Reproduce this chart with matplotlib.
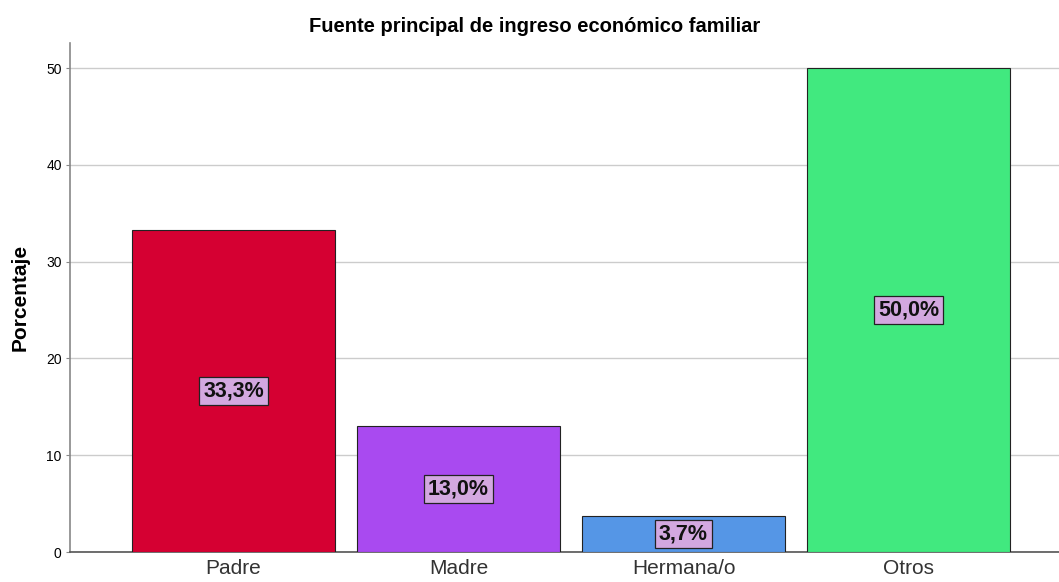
import matplotlib
matplotlib.use("Agg")
import matplotlib.pyplot as plt

categories = ["Padre", "Madre", "Hermana/o", "Otros"]
values = [33.3, 13.0, 3.7, 50.0]
labels = ["33,3%", "13,0%", "3,7%", "50,0%"]
colors = ["#D50032", "#A94AF0", "#5596E6", "#41E97F"]
yticks = [0, 10, 20, 30, 40, 50]

plt.rcParams['font.family'] = ['Liberation Sans', 'DejaVu Sans']

W, H = 1059, 582
fig = plt.figure(figsize=(W/100, H/100), dpi=100)
ax = fig.add_axes([70/W, 1-552/H, (1059-70)/W, (552-43)/H])

x = list(range(len(categories)))
ax.bar(x, values, width=0.902, color=colors, edgecolor="#222222", linewidth=0.8, zorder=3)
for xi, v, lab in zip(x, values, labels):
    ax.text(xi, v/2, lab, ha="center", va="center", fontsize=15.5, fontweight="bold",
            color="#111111", zorder=5,
            bbox=dict(boxstyle="square,pad=0.18", facecolor="#D3A8E0", edgecolor="#222222", linewidth=0.9))

ax.set_xlim(-0.727, 3.669)
ax.set_ylim(0, 52.6)
ax.set_yticks(yticks)
ax.set_yticklabels([str(t) for t in yticks], fontsize=10)
ax.set_xticks(x)
ax.set_xticklabels(categories, fontsize=15, color="#333333")
ax.tick_params(axis="x", length=0, pad=5)
ax.tick_params(axis="y", length=3, color="#888888", pad=3)
ax.yaxis.grid(True, color="#CCCCCC", linewidth=1.0, zorder=0)
ax.set_axisbelow(True)
for s in ["top", "right"]:
    ax.spines[s].set_visible(False)
ax.spines["left"].set_color("#888888")
ax.spines["bottom"].set_color("#555555")
ax.spines["left"].set_linewidth(1.2)
ax.spines["bottom"].set_linewidth(1.2)

ax.set_ylabel("Porcentaje", fontsize=15, fontweight="bold", labelpad=12)
fig.text(535/W, 1-27/H, "Fuente principal de ingreso económico familiar", ha="center", va="center",
         fontsize=14.5, fontweight="bold")

fig.savefig("out.png", dpi=100)
